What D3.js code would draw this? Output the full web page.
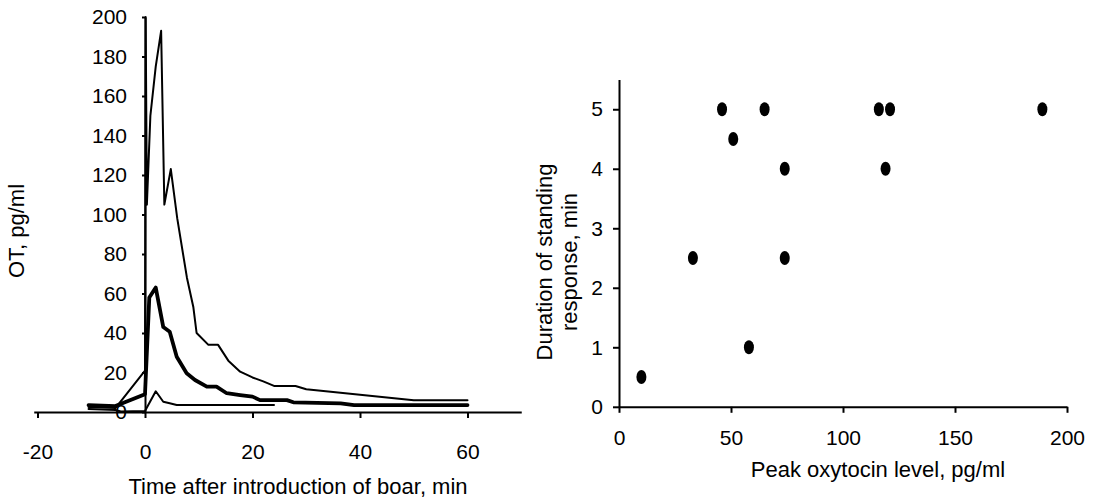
<!DOCTYPE html>
<meta charset="utf-8">

<!-- Load d3.js -->
<script src="https://d3js.org/d3.v7.min.js"></script>

<style>
  body { margin: 0; background: #fff; }
  text { font-family: "Liberation Sans", Arial, sans-serif; fill: #000; }
</style>

<!-- Create a div where the graph will take place -->
<div id="my_dataviz"></div>
<script>

// ---- data: left panel, OT (pg/ml) vs time after introduction of boar (min)
const timeHigh = [-10.5, -5.5, 0, 0.12, 0.35, 1, 2, 3, 3.6, 4.8, 6, 7.8, 9, 9.6, 11.8, 13.6, 15.5, 17.7, 20, 22, 24, 28, 30, 50, 60];
const otHigh   = [2.5, 2, 21, 200, 105, 150, 175, 193, 105, 123, 98, 68, 53, 40, 34, 34, 26, 20.4, 17.5, 15.5, 13.2, 13.2, 11.5, 6, 6];

const timeMean = [-10.5, -5.5, 0, 0.8, 2, 3.4, 4.6, 5.9, 7.75, 9.3, 11.5, 13.3, 15.2, 17.7, 20, 21.4, 26.4, 27.6, 36.4, 38.9, 60];
const otMean   = [3.5, 3, 9, 58, 63, 43, 40.6, 28, 19.6, 16.2, 12.8, 12.8, 9.5, 8.6, 7.8, 6, 6, 4.9, 4.4, 3.5, 3.5];

const timeLow = [-10.5, -5.5, -4.5, 0, 2, 3.4, 4.6, 5.9, 24];
const otLow   = [1.5, 1, 0.3, 0.5, 10.5, 5.2, 4.4, 3.5, 3.5];

const leftXTicks = [-20, 0, 20, 40, 60];
const leftYTicks = [0, 20, 40, 60, 80, 100, 120, 140, 160, 180, 200];

// ---- data: right panel, standing response vs peak oxytocin
const peakOT   = [10, 33, 46, 51, 58, 65, 74, 74, 116, 119, 121, 189];
const standDur = [0.5, 2.5, 5, 4.5, 1, 5, 4, 2.5, 5, 4, 5, 5];

const rightXTicks = [0, 50, 100, 150, 200];
const rightYTicks = [0, 1, 2, 3, 4, 5];

const tickFont = 21;
const titleFont = 22;

// plain hyphen minus like the original, not the unicode minus
const fmt = function(d) { return String(d); };

// append the svg object to the body of the page
const svg = d3.select("#my_dataviz")
  .append("svg")
    .attr("width", 1100)
    .attr("height", 502);

function styleAxis(g) {
  g.attr("font-size", null).attr("font-family", null);
  g.select(".domain").attr("stroke", "#000").attr("stroke-width", 2);
  g.selectAll(".tick line").attr("stroke", "#000").attr("stroke-width", 2);
  g.selectAll(".tick text").style("font-size", tickFont + "px");
}

// ================= left panel =================
const x1 = d3.scaleLinear()
  .domain([-20.7, 70])
  .range([145 - 20.7 * 5.375, 145 + 70 * 5.375]);
const y1 = d3.scaleLinear()
  .domain([0, 200])
  .range([412, 17]);

// X axis crosses at OT = 0
svg.append("g")
  .attr("transform", `translate(0, ${y1(0)})`)
  .call(d3.axisBottom(x1).tickValues(leftXTicks).tickFormat(fmt).tickSize(6).tickSizeOuter(0).tickPadding(26))
  .call(styleAxis);

// Y axis crosses at time = 0
svg.append("g")
  .attr("transform", `translate(${x1(0)}, 0)`)
  .call(d3.axisLeft(y1).tickValues(leftYTicks).tickFormat(fmt).tickSize(3).tickSizeOuter(0).tickPadding(15))
  .call(styleAxis);

const line1 = d3.line()
  .x(function(d) { return x1(d[0]); })
  .y(function(d) { return y1(d[1]); });

const series = [
  { t: timeLow,  v: otLow,  w: 2 },
  { t: timeHigh, v: otHigh, w: 2 },
  { t: timeMean, v: otMean, w: 3.8 }
];

svg.selectAll(".otLine")
  .data(series)
  .join("path")
    .attr("class", "otLine")
    .attr("d", function(s) { return line1(d3.zip(s.t, s.v)); })
    .attr("fill", "none")
    .attr("stroke", "#000")
    .attr("stroke-width", function(s) { return s.w; })
    .attr("stroke-linejoin", "round")
    .attr("stroke-linecap", "round");

// axis titles
svg.append("text")
  .attr("x", 298)
  .attr("y", 494)
  .attr("text-anchor", "middle")
  .style("font-size", titleFont + "px")
  .text("Time after introduction of boar, min");

svg.append("text")
  .attr("transform", "translate(24, 231) rotate(-90)")
  .attr("text-anchor", "middle")
  .style("font-size", titleFont + "px")
  .text("OT, pg/ml");

// ================= right panel =================
const x2 = d3.scaleLinear()
  .domain([0, 200])
  .range([619, 1067]);
const y2 = d3.scaleLinear()
  .domain([0, 5.5])
  .range([406.8, 79.5]);

svg.append("g")
  .attr("transform", `translate(0, ${y2(0)})`)
  .call(d3.axisBottom(x2).tickValues(rightXTicks).tickFormat(fmt).tickSize(6).tickSizeOuter(0).tickPadding(17))
  .call(styleAxis);

svg.append("g")
  .attr("transform", `translate(${x2(0)}, 0)`)
  .call(d3.axisLeft(y2).tickValues(rightYTicks).tickFormat(fmt).tickSize(6).tickSizeOuter(0).tickPadding(10))
  .call(styleAxis);

svg.selectAll(".dot")
  .data(d3.zip(peakOT, standDur))
  .join("ellipse")
    .attr("class", "dot")
    .attr("cx", function(d) { return x2(d[0]); })
    .attr("cy", function(d) { return y2(d[1]); })
    .attr("rx", 5)
    .attr("ry", 7)
    .attr("fill", "#000");

svg.append("text")
  .attr("x", 878)
  .attr("y", 477)
  .attr("text-anchor", "middle")
  .style("font-size", titleFont + "px")
  .text("Peak oxytocin level, pg/ml");

svg.append("text")
  .attr("transform", "translate(552, 262) rotate(-90)")
  .attr("text-anchor", "middle")
  .style("font-size", titleFont + "px")
  .text("Duration of standing");

svg.append("text")
  .attr("transform", "translate(577, 262) rotate(-90)")
  .attr("text-anchor", "middle")
  .style("font-size", titleFont + "px")
  .text("response, min");

</script>
